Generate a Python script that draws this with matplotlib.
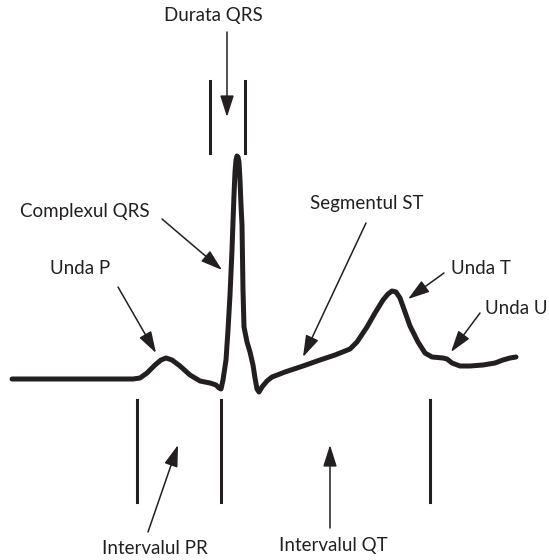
import matplotlib
matplotlib.use("Agg")
import matplotlib.pyplot as plt

# ECG trace, in picture pixel units (x right, y down)
ecg_x = [12, 133, 140, 147, 155, 161, 166, 172, 180, 190, 200, 210, 216, 219, 221,
         223, 226, 228, 230, 232, 233, 234, 235, 236, 237, 238, 239, 240, 241, 242,
         243, 244, 247, 250, 253, 255, 257, 259, 262, 267, 272, 285, 303, 320, 335,
         350, 357, 367, 375, 383, 388, 392, 396, 400, 405, 410, 418, 425, 432, 443,
         447, 452, 460, 470, 483, 495, 503, 510, 516]
ecg_y = [379, 379, 378, 373, 365, 360, 358, 360, 366, 375, 381, 383, 385, 388, 389,
         380, 360, 330, 295, 250, 222, 195, 172, 160, 156, 157, 162, 180, 205, 225,
         290, 327, 342, 352, 365, 378, 389, 392, 387, 381, 377, 372, 366, 360, 355,
         349, 342, 327, 313, 300, 294, 291, 292, 298, 312, 326, 342, 353, 357, 358,
         359, 363, 366, 366, 365, 363, 360, 358, 357]

# interval marker bars
top_bars_x = [210, 245]
bottom_bars_x = [137, 221, 430]

# labels: text, text position, arrow tail, arrow tip
labels = ["Durata QRS", "Complexul QRS", "Unda P", "Segmentul ST", "Unda T",
          "Unda U", "Intervalul PR", "Intervalul QT"]
text_pos = [(213, 16), (85, 211), (80, 269), (367, 204), (481, 269),
            (516, 309), (155, 549), (333, 546)]
arrow_from = [(227, 32), (162, 219), (118, 287), (366, 223), (444, 273),
              (480, 313), (148, 532), (330, 528)]
arrow_to = [(227, 117), (222, 270), (156, 353), (303, 357), (408, 299),
            (451, 352), (178, 445), (330, 445)]

ink = "#231f20"

fig = plt.figure(figsize=(5.49, 5.60), dpi=100)
ax = fig.add_axes([0, 0, 1, 1])
ax.set_xlim(0, 549)
ax.set_ylim(560, 0)
ax.axis("off")

ax.plot(ecg_x, ecg_y, color=ink, lw=3.6, solid_joinstyle="round",
        solid_capstyle="round")

for x in top_bars_x:
    ax.plot([x, x], [81, 153], color=ink, lw=2.2)
for x in bottom_bars_x:
    ax.plot([x, x], [400, 502], color=ink, lw=2.2)

for lab, tp, a0, a1 in zip(labels, text_pos, arrow_from, arrow_to):
    ax.text(tp[0], tp[1], lab, fontsize=13.5, family="Lato", color=ink,
            ha="center", va="center")
    ax.annotate("", xy=a1, xytext=a0,
                arrowprops=dict(arrowstyle="-|>,head_length=1.1,head_width=0.35",
                                mutation_scale=12, lw=1.1, color=ink,
                                shrinkA=0, shrinkB=0))

fig.savefig("out.png", dpi=100)
